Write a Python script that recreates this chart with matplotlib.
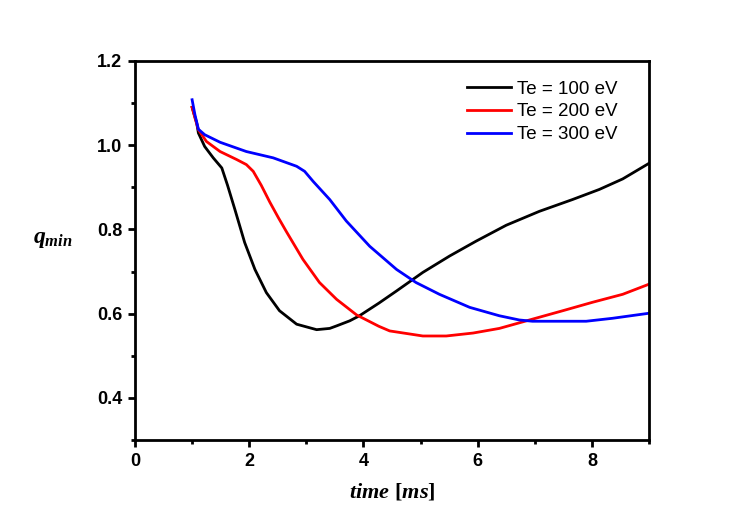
import matplotlib
matplotlib.use("Agg")
import matplotlib.pyplot as plt
from matplotlib.ticker import MultipleLocator

plt.rcParams['mathtext.fontset'] = 'custom'
plt.rcParams['mathtext.it'] = 'Liberation Serif:italic:bold'
plt.rcParams['mathtext.rm'] = 'Liberation Serif:bold'

t_100 = [1.0, 1.08, 1.11, 1.22, 1.37, 1.52, 1.62, 1.75, 1.92, 2.10, 2.30, 2.53, 2.83, 3.18, 3.41, 3.53,
         3.76, 3.93, 4.27, 4.58, 5.04, 5.51, 5.97, 6.50, 7.08, 7.66, 8.13, 8.54, 9.0]
q_100 = [1.09, 1.053, 1.029, 0.997, 0.970, 0.946, 0.905, 0.847, 0.769, 0.705, 0.650, 0.607, 0.575, 0.562, 0.565, 0.571,
         0.583, 0.595, 0.625, 0.654, 0.698, 0.737, 0.772, 0.810, 0.843, 0.871, 0.895, 0.920, 0.957]

t_200 = [1.0, 1.05, 1.11, 1.25, 1.49, 1.78, 1.95, 2.07, 2.21, 2.36, 2.51, 2.65, 2.94, 3.23, 3.53, 3.88,
         4.27, 4.46, 5.04, 5.45, 5.92, 6.38, 6.96, 7.49, 8.01, 8.54, 9.0]
q_200 = [1.09, 1.065, 1.037, 1.009, 0.985, 0.966, 0.954, 0.938, 0.905, 0.865, 0.828, 0.795, 0.729, 0.674, 0.634, 0.597,
         0.570, 0.559, 0.547, 0.547, 0.554, 0.565, 0.587, 0.607, 0.627, 0.646, 0.670]

t_300 = [1.0, 1.05, 1.11, 1.22, 1.49, 1.95, 2.42, 2.83, 2.97, 3.12, 3.41, 3.70, 4.11, 4.58, 4.92, 5.33,
         5.86, 6.38, 6.73, 6.96, 7.90, 8.36, 9.0]
q_300 = [1.108, 1.072, 1.038, 1.025, 1.007, 0.985, 0.970, 0.950, 0.938, 0.914, 0.871, 0.820, 0.760, 0.705, 0.674, 0.646,
         0.615, 0.595, 0.585, 0.582, 0.582, 0.589, 0.601]

labels = ["Te = 100 eV", "Te = 200 eV", "Te = 300 eV"]
colors = ["black", "red", "blue"]

fig = plt.figure(figsize=(7.54, 5.29), dpi=100)
ax = fig.add_axes([135/754, 1-440/529, (649-135)/754, (440-61)/529])

for t, q, lab, c in zip([t_100, t_200, t_300], [q_100, q_200, q_300], labels, colors):
    ax.plot(t, q, color=c, lw=2, label=lab)

ax.set_xlim(0, 9)
ax.set_ylim(0.3, 1.2)
ax.set_xticks([0, 2, 4, 6, 8])
ax.xaxis.set_minor_locator(MultipleLocator(1))
ax.set_yticks([0.4, 0.6, 0.8, 1.0, 1.2])
ax.set_yticklabels(["0.4", "0.6", "0.8", "1.0", "1.2"])
ax.yaxis.set_minor_locator(MultipleLocator(0.1))

for s in ax.spines.values():
    s.set_linewidth(2)
ax.tick_params(which='major', direction='out', length=5, width=2, top=False, right=False, pad=4)
ax.tick_params(which='minor', direction='out', length=3, width=2, top=False, right=False)
for lbl in ax.get_xticklabels() + ax.get_yticklabels():
    lbl.set_fontfamily('Liberation Sans')
    lbl.set_fontweight('bold')
    lbl.set_fontsize(13)

ax.set_xlabel(r"$time\ [ms]$", fontsize=16, labelpad=8)
ax.set_ylabel(r"$q_{min}$", fontsize=17, rotation=0, labelpad=0)
ax.yaxis.set_label_coords(-0.16, 0.5)

leg = ax.legend(loc='upper right', frameon=False, prop={'family': 'Liberation Sans', 'size': 13.5},
                handlelength=2.35, handletextpad=0.3, labelspacing=0.3, borderaxespad=0,
                bbox_to_anchor=(1 - 24/514, 1 - 12/379))

fig.savefig("out.png", dpi=100)
